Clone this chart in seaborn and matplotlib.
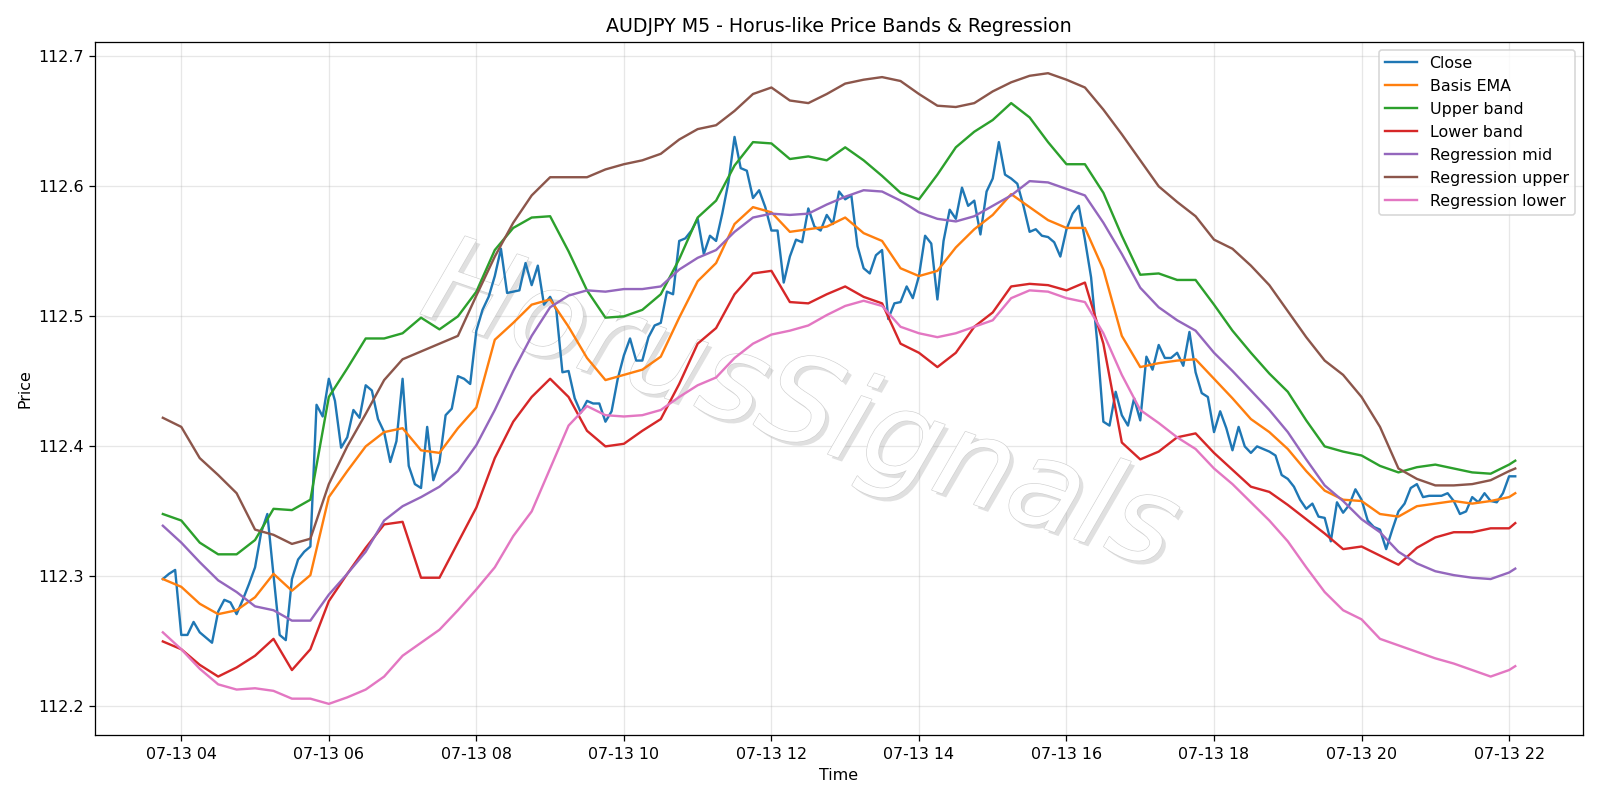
import pandas as pd
import matplotlib.pyplot as plt
import matplotlib.patheffects as pe
import seaborn as sns

# 5-minute bars, 07-13 03:45 -> 22:05
times = pd.date_range('2023-07-13 03:45', periods=221, freq='5min')

close = [
    112.298, 112.302, 112.305, 112.255, 112.255, 112.265, 112.257, 112.253, 112.249, 112.273,
    112.282, 112.280, 112.271, 112.282, 112.294, 112.307, 112.334, 112.348, 112.301, 112.255,
    112.251, 112.298, 112.313, 112.319, 112.323, 112.432, 112.423, 112.452, 112.435, 112.399,
    112.407, 112.428, 112.422, 112.447, 112.443, 112.421, 112.411, 112.388, 112.404, 112.452,
    112.385, 112.371, 112.368, 112.415, 112.374, 112.388, 112.424, 112.429, 112.454, 112.452,
    112.448, 112.489, 112.505, 112.515, 112.531, 112.552, 112.518, 112.519, 112.520, 112.541,
    112.524, 112.539, 112.509, 112.515, 112.505, 112.457, 112.458, 112.437, 112.426, 112.435,
    112.433, 112.433, 112.419, 112.427, 112.452, 112.470, 112.483, 112.466, 112.466, 112.484,
    112.493, 112.495, 112.519, 112.517, 112.558, 112.560, 112.566, 112.575, 112.548, 112.562,
    112.558, 112.579, 112.603, 112.638, 112.614, 112.612, 112.591, 112.597, 112.584, 112.566,
    112.566, 112.526, 112.546, 112.559, 112.557, 112.583, 112.569, 112.566, 112.578, 112.571,
    112.596, 112.590, 112.593, 112.554, 112.537, 112.533, 112.547, 112.551, 112.498, 112.510,
    112.511, 112.523, 112.514, 112.531, 112.562, 112.556, 112.513, 112.558, 112.582, 112.575,
    112.599, 112.585, 112.589, 112.563, 112.596, 112.606, 112.634, 112.609, 112.606, 112.602,
    112.585, 112.565, 112.567, 112.562, 112.561, 112.557, 112.546, 112.567, 112.579, 112.585,
    112.559, 112.530, 112.480, 112.419, 112.416, 112.442, 112.424, 112.416, 112.437, 112.420,
    112.469, 112.459, 112.478, 112.468, 112.468, 112.472, 112.462, 112.488, 112.457, 112.441,
    112.438, 112.411, 112.427, 112.414, 112.397, 112.415, 112.400, 112.395, 112.400, 112.398,
    112.396, 112.393, 112.378, 112.375, 112.369, 112.359, 112.352, 112.356, 112.346, 112.345,
    112.327, 112.357, 112.349, 112.355, 112.367, 112.359, 112.343, 112.338, 112.336, 112.321,
    112.336, 112.350, 112.356, 112.368, 112.371, 112.361, 112.362, 112.362, 112.362, 112.364,
    112.358, 112.348, 112.350, 112.361, 112.357, 112.364, 112.358, 112.357, 112.364, 112.377,
    112.377,
]

# smooth lines read every 3rd bar (plus the last one)
idx = list(range(0, 220, 3)) + [220]

basis_ema = [
    112.298, 112.292, 112.279, 112.271, 112.274, 112.284, 112.302, 112.289, 112.301, 112.361, 112.381, 112.400, 112.411,
    112.414, 112.397, 112.395, 112.414, 112.430, 112.482, 112.495, 112.509, 112.513, 112.492, 112.468, 112.451, 112.455,
    112.459, 112.469, 112.499, 112.527, 112.541, 112.571, 112.584, 112.580, 112.565, 112.567, 112.569, 112.576, 112.564,
    112.558, 112.537, 112.531, 112.535, 112.553, 112.567, 112.578, 112.594, 112.584, 112.574, 112.568, 112.568, 112.536,
    112.485, 112.461, 112.464, 112.466, 112.467, 112.452, 112.437, 112.421, 112.411, 112.398, 112.381, 112.366, 112.359,
    112.358, 112.348, 112.346, 112.354, 112.356, 112.358, 112.356, 112.358, 112.361, 112.364,
]
upper_band = [
    112.348, 112.343, 112.326, 112.317, 112.317, 112.328, 112.352, 112.351, 112.359, 112.438, 112.460, 112.483, 112.483,
    112.487, 112.499, 112.490, 112.500, 112.519, 112.551, 112.568, 112.576, 112.577, 112.550, 112.520, 112.499, 112.500,
    112.505, 112.517, 112.544, 112.576, 112.589, 112.616, 112.634, 112.633, 112.621, 112.623, 112.620, 112.630, 112.620,
    112.608, 112.595, 112.590, 112.609, 112.630, 112.642, 112.651, 112.664, 112.653, 112.634, 112.617, 112.617, 112.595,
    112.562, 112.532, 112.533, 112.528, 112.528, 112.509, 112.489, 112.472, 112.456, 112.442, 112.420, 112.400, 112.396,
    112.393, 112.385, 112.380, 112.384, 112.386, 112.383, 112.380, 112.379, 112.386, 112.389,
]
lower_band = [
    112.250, 112.244, 112.232, 112.223, 112.230, 112.239, 112.252, 112.228, 112.244, 112.281, 112.302, 112.322, 112.340,
    112.342, 112.299, 112.299, 112.326, 112.353, 112.391, 112.419, 112.438, 112.452, 112.438, 112.412, 112.400, 112.402,
    112.412, 112.421, 112.448, 112.479, 112.491, 112.517, 112.533, 112.535, 112.511, 112.510, 112.517, 112.523, 112.515,
    112.510, 112.479, 112.472, 112.461, 112.472, 112.492, 112.503, 112.523, 112.525, 112.524, 112.520, 112.526, 112.479,
    112.403, 112.390, 112.396, 112.407, 112.410, 112.395, 112.382, 112.369, 112.365, 112.355, 112.344, 112.333, 112.321,
    112.323, 112.316, 112.309, 112.322, 112.330, 112.334, 112.334, 112.337, 112.337, 112.341,
]
reg_mid = [
    112.339, 112.326, 112.311, 112.297, 112.288, 112.277, 112.274, 112.266, 112.266, 112.286, 112.302, 112.319, 112.343,
    112.354, 112.361, 112.369, 112.381, 112.401, 112.428, 112.458, 112.485, 112.507, 112.516, 112.520, 112.519, 112.521,
    112.521, 112.523, 112.536, 112.545, 112.551, 112.565, 112.576, 112.579, 112.578, 112.579, 112.586, 112.592, 112.597,
    112.596, 112.589, 112.580, 112.575, 112.573, 112.577, 112.585, 112.593, 112.604, 112.603, 112.598, 112.593, 112.572,
    112.548, 112.522, 112.507, 112.497, 112.489, 112.472, 112.458, 112.443, 112.428, 112.411, 112.390, 112.370, 112.358,
    112.344, 112.334, 112.319, 112.310, 112.304, 112.301, 112.299, 112.298, 112.303, 112.306,
]
reg_upper = [
    112.422, 112.415, 112.391, 112.378, 112.364, 112.336, 112.332, 112.325, 112.329, 112.371, 112.400, 112.425, 112.451,
    112.467, 112.473, 112.479, 112.485, 112.516, 112.546, 112.572, 112.593, 112.607, 112.607, 112.607, 112.613, 112.617,
    112.620, 112.625, 112.636, 112.644, 112.647, 112.658, 112.671, 112.676, 112.666, 112.664, 112.671, 112.679, 112.682,
    112.684, 112.681, 112.671, 112.662, 112.661, 112.664, 112.673, 112.680, 112.685, 112.687, 112.682, 112.676, 112.659,
    112.640, 112.620, 112.600, 112.588, 112.577, 112.559, 112.552, 112.539, 112.524, 112.504, 112.484, 112.466, 112.455,
    112.438, 112.415, 112.383, 112.375, 112.370, 112.370, 112.371, 112.374, 112.381, 112.383,
]
reg_lower = [
    112.257, 112.244, 112.229, 112.217, 112.213, 112.214, 112.212, 112.206, 112.206, 112.202, 112.207, 112.213, 112.223,
    112.239, 112.249, 112.259, 112.274, 112.290, 112.307, 112.331, 112.350, 112.383, 112.416, 112.431, 112.424, 112.423,
    112.424, 112.428, 112.438, 112.447, 112.453, 112.468, 112.479, 112.486, 112.489, 112.493, 112.501, 112.508, 112.512,
    112.508, 112.492, 112.487, 112.484, 112.487, 112.492, 112.497, 112.514, 112.520, 112.519, 112.514, 112.511, 112.487,
    112.455, 112.428, 112.418, 112.407, 112.398, 112.383, 112.371, 112.357, 112.343, 112.327, 112.307, 112.288, 112.274,
    112.267, 112.252, 112.247, 112.242, 112.237, 112.233, 112.228, 112.223, 112.228, 112.231,
]

t_s = times[idx]
palette = sns.color_palette('tab10')

fig, ax = plt.subplots(figsize=(14, 7), dpi=800 / 7)
sns.lineplot(x=times, y=close, ax=ax, color=palette[0], label='Close')
sns.lineplot(x=t_s, y=basis_ema, ax=ax, color=palette[1], label='Basis EMA')
sns.lineplot(x=t_s, y=upper_band, ax=ax, color=palette[2], label='Upper band')
sns.lineplot(x=t_s, y=lower_band, ax=ax, color=palette[3], label='Lower band')
sns.lineplot(x=t_s, y=reg_mid, ax=ax, color=palette[4], label='Regression mid')
sns.lineplot(x=t_s, y=reg_upper, ax=ax, color=palette[5], label='Regression upper')
sns.lineplot(x=t_s, y=reg_lower, ax=ax, color=palette[6], label='Regression lower')

ax.set_title('AUDJPY M5 - Horus-like Price Bands & Regression')
ax.set_xlabel('Time')
ax.set_ylabel('Price')
ax.grid(True, alpha=0.3)
ax.legend(loc='upper right')

# watermark
ax.text(0.5, 0.488, 'HorusSignals', transform=fig.transFigure, fontsize=76,
        style='italic', color='white', ha='center', va='center', rotation=-19,
        zorder=1.8,
        path_effects=[pe.SimplePatchShadow(offset=(2.5, -2.5), shadow_rgbFace='#999999', alpha=0.3),
                      pe.Stroke(linewidth=0.8, foreground='#d0d0d0'),
                      pe.Normal()])

plt.tight_layout()
plt.savefig('out.png', dpi=800 / 7)
